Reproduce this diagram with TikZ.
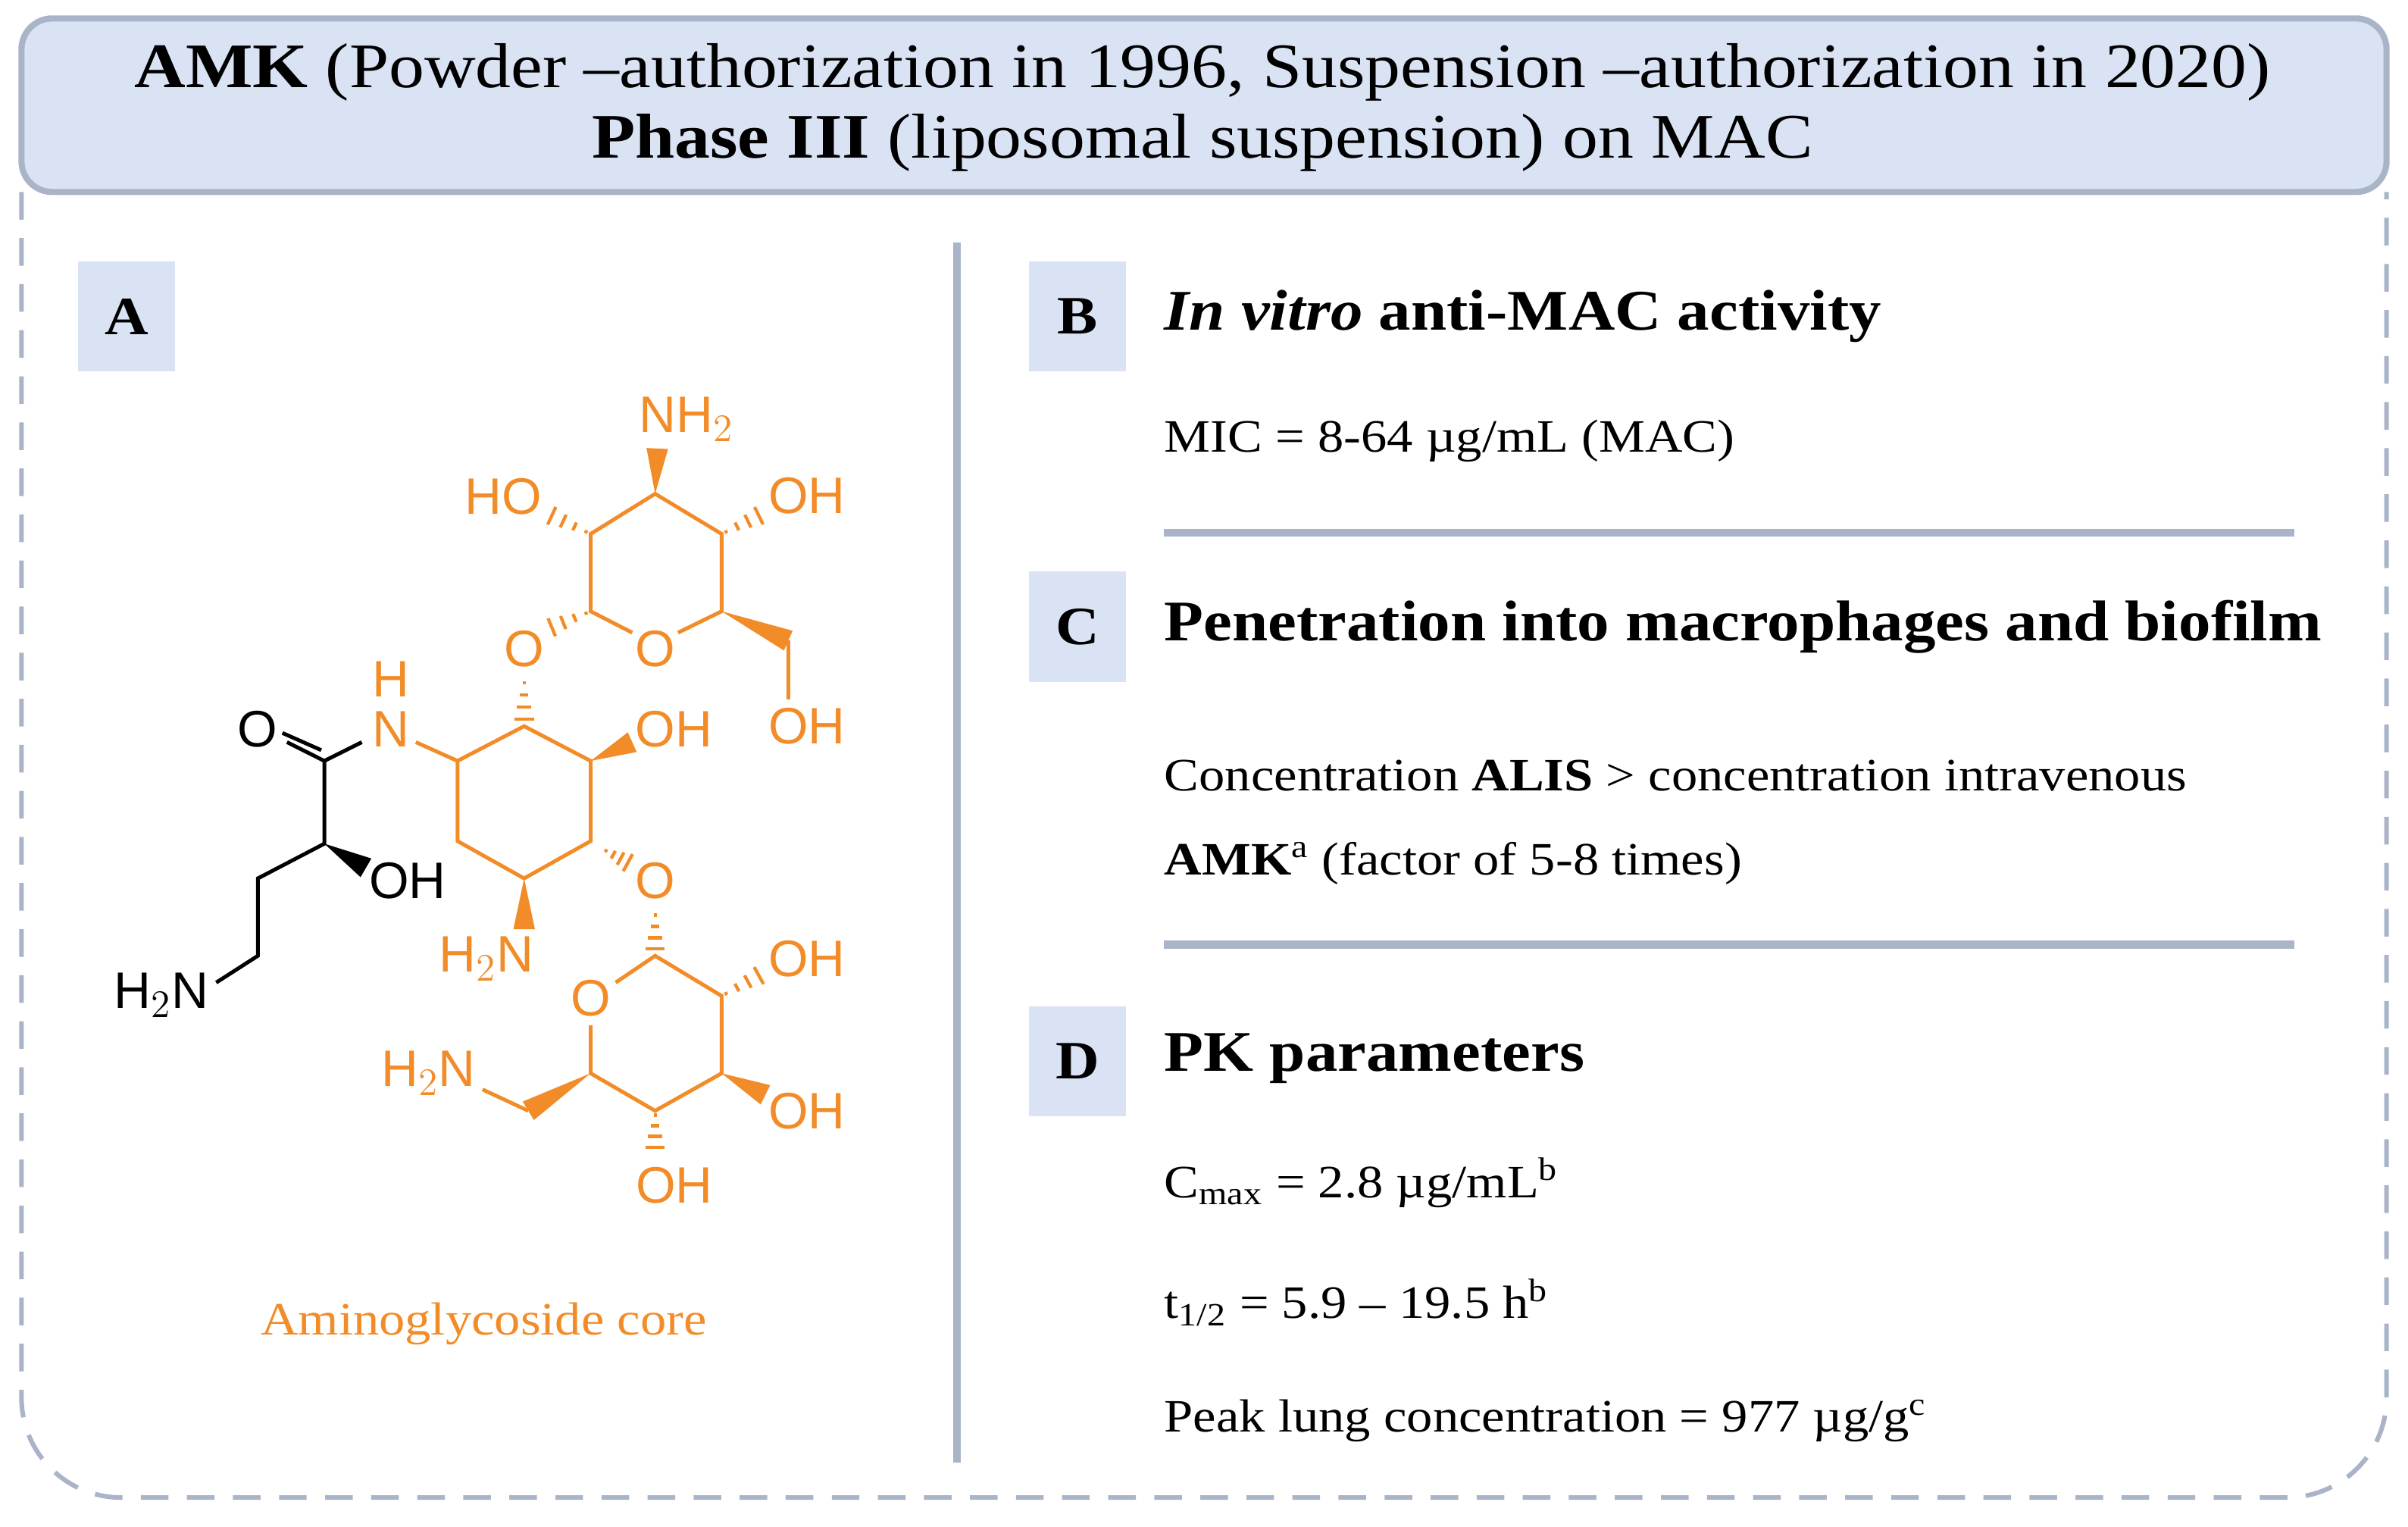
\documentclass[tikz,border=0pt]{standalone}
\usepackage{fontspec}
\setmainfont{Liberation Serif}[FakeStretch=1.12]
\newfontfamily\chemfont{Liberation Sans}
\usetikzlibrary{calc}
\definecolor{frameblue}{HTML}{A9B4C8}
\definecolor{boxblue}{HTML}{DAE3F3}
\definecolor{chemorange}{HTML}{F28C28}
\tikzset{
  letterbox/.style={fill=boxblue, minimum width=1.26cm, minimum height=1.44cm, font=\fontsize{20}{24}\selectfont\bfseries},
  bodytext/.style={anchor=west, font=\fontsize{17.2}{20}\selectfont},
  headtext/.style={anchor=west, font=\fontsize{21.3}{24}\selectfont\bfseries},
  sepline/.style={draw=frameblue, line width=0.1cm},
  atom/.style={font=\chemfont\fontsize{19}{22}\selectfont, inner sep=0pt},
  bond/.style={line width=1.4pt}
}
\newcommand{\wedgebond}[2]{\fill (#1) -- ($(#2)!4pt!90:(#1)$) -- ($(#2)!4pt!-90:(#1)$) -- cycle;}
\newcommand{\hashbond}[2]{\foreach \t/\w in {0.1/0.6,0.35/1.6,0.6/2.6,0.85/3.6}{\draw[line width=1.2pt] ($($(#1)!\t!(#2)$)!\w pt!90:(#2)$) -- ($($(#1)!\t!(#2)$)!\w pt!-90:(#2)$);}}
\begin{document}
\begin{tikzpicture}[x=0.02cm, y=-0.02cm]
    \useasboundingbox (0,0) rectangle (1568,994);

    % frame and header
    \draw[frameblue, line width=0.06cm, dash pattern=on 0.36cm off 0.24cm, rounded corners=1.3cm]
        (14,125) -- (14,975) -- (1554,975) -- (1554,125);
    \draw[frameblue, fill=boxblue, line width=0.08cm, rounded corners=0.4cm] (14,12) rectangle (1554,125);
    \node[font=\fontsize{23.5}{26}\selectfont, align=center] (header) at (783,70) {%
        \textbf{AMK} (Powder –authorization in 1996, Suspension –authorization in 2020)\\
        \textbf{Phase III} (liposomal suspension) on MAC};

    % separators
    \draw[sepline] (623,158) -- (623,952);
    \draw[sepline] (758,347) -- (1494,347);
    \draw[sepline] (758,615) -- (1494,615);

    % panel letters
    \node[letterbox] (boxA) at (82.5,206) {A};
    \node[letterbox] (boxB) at (701.5,206) {B};
    \node[letterbox] (boxC) at (701.5,408) {C};
    \node[letterbox] (boxD) at (701.5,691) {D};

    % panel texts
    \node[headtext] (headB) at (752,206) {\textit{In vitro} anti-MAC activity};
    \node[bodytext] (mic) at (752,287) {MIC = 8-64 µg/mL (MAC)};
    \node[headtext] (headC) at (752,408) {Penetration into macrophages and biofilm};
    \node[bodytext] (conc1) at (752,505) {Concentration \textbf{ALIS} > concentration intravenous};
    \node[bodytext] (conc2) at (752,562) {\textbf{AMK}\textsuperscript{a} (factor of 5-8 times)};
    \node[headtext] (headD) at (752,689) {PK parameters};
    \node[bodytext] (cmax) at (752,770) {C\textsubscript{max} = 2.8 µg/mL\textsuperscript{b}};
    \node[bodytext] (thalf) at (752,848) {t\textsubscript{1/2} = 5.9 – 19.5 h\textsuperscript{b}};
    \node[bodytext] (lung) at (752,925) {Peak lung concentration = 977 µg/g\textsuperscript{c}};
    \node[font=\fontsize{17.2}{20}\selectfont, text=chemorange] (core) at (315,862) {Aminoglycoside core};

    % side chain (black)
    \coordinate (cC) at (211.2,495.4);
    \coordinate (cA) at (211.2,549.3);
    \coordinate (cB) at (167.9,571.9);
    \coordinate (cG) at (167.9,622.3);
    \node[atom] (oC) at (167.9,474.5) {O};
    \node[atom] (ohA) at (265.4,573.6) {OH};
    \node[atom] (nTail) at (105,648) {H$_2$N};
    \draw[bond] (cC) -- (186.9,483.2);
    \draw[bond] ($(cC)+(-2,-7)$) -- ($(186.9,483.2)+(-3,-6)$);
    \draw[bond] (cC) -- (cA) -- (cB) -- (cG) -- (140.8,639.7);
    \wedgebond{cA}{238.3,565}

    % aminoglycoside core (orange)
    \begin{scope}[chemorange, draw=chemorange]
        % middle ring
        \coordinate (m1) at (341.3,472.8);
        \coordinate (m2) at (384.6,495.4);
        \coordinate (m3) at (384.6,547.6);
        \coordinate (m4) at (341.3,571.9);
        \coordinate (m5) at (297.9,547.6);
        \coordinate (m6) at (297.9,495.4);
        \draw[bond] (m1) -- (m2) -- (m3) -- (m4) -- (m5) -- (m6) -- cycle;
        \node[atom] (nAm) at (254.6,474.5) {N};
        \node[atom] (hAm) at (254.6,442) {H};
        \draw[bond, black] (235.6,483.2) -- (cC);
        \draw[bond] (m6) -- (270.8,483.2);
        \node[atom] (ohM) at (438.8,474.5) {OH};
        \wedgebond{m2}{411.7,483.2}
        \node[atom] (nM) at (316.9,624.1) {H$_2$N};
        \wedgebond{m4}{341.3,605}
        \node[atom] (o1) at (341.3,422.3) {O};
        \hashbond{341.3,441.5}{m1}
        \node[atom] (o2) at (426.6,573.6) {O};
        \hashbond{392.7,552.8}{411.7,563.2}
        % top ring
        \coordinate (t1) at (426.6,321.5);
        \coordinate (t2) at (469.9,347.6);
        \coordinate (t3) at (469.9,398.0);
        \coordinate (t5) at (384.6,398.0);
        \coordinate (t6) at (384.6,347.6);
        \node[atom] (oT) at (426.6,422.3) {O};
        \draw[bond] (411.7,411.9) -- (t5) -- (t6) -- (t1) -- (t2) -- (t3) -- (441.5,411.9);
        \node[atom] (nT) at (447,273) {NH$_2$};
        \wedgebond{t1}{428,292}
        \node[atom] (ohT1) at (327.7,323.2) {HO};
        \hashbond{t6}{354.8,333.7}
        \node[atom] (ohT2) at (525.5,323) {OH};
        \hashbond{t2}{498.4,333.7}
        \wedgebond{t3}{513.3,417.1}
        \draw[bond] (513.3,417.1) -- (513.3,455.4);
        \node[atom] (ohT3) at (525.5,472.8) {OH};
        \hashbond{t5}{354.8,410.2}
        % bottom ring
        \coordinate (l1) at (426.6,622.3);
        \coordinate (l2) at (469.9,648.4);
        \coordinate (l3) at (469.9,698.8);
        \coordinate (l4) at (426.6,723.2);
        \coordinate (l5) at (384.6,698.8);
        \node[atom] (oL) at (384.6,650.1) {O};
        \draw[bond] (400.9,639.7) -- (l1) -- (l2) -- (l3) -- (l4) -- (l5) -- (384.6,667.5);
        \hashbond{426.6,592.8}{l1}
        \node[atom] (ohL1) at (525.5,624.1) {OH};
        \hashbond{l2}{498.4,632.8}
        \node[atom] (ohL2) at (525.5,723.2) {OH};
        \wedgebond{l3}{498.4,712.8}
        \node[atom] (ohL3) at (439,772) {OH};
        \hashbond{l4}{426.6,751}
        \wedgebond{l5}{344,723.2}
        \draw[bond] (344,723.2) -- (314.2,709.3);
        \node[atom] (nL) at (279,698.8) {H$_2$N};
    \end{scope}
\end{tikzpicture}
\end{document}
